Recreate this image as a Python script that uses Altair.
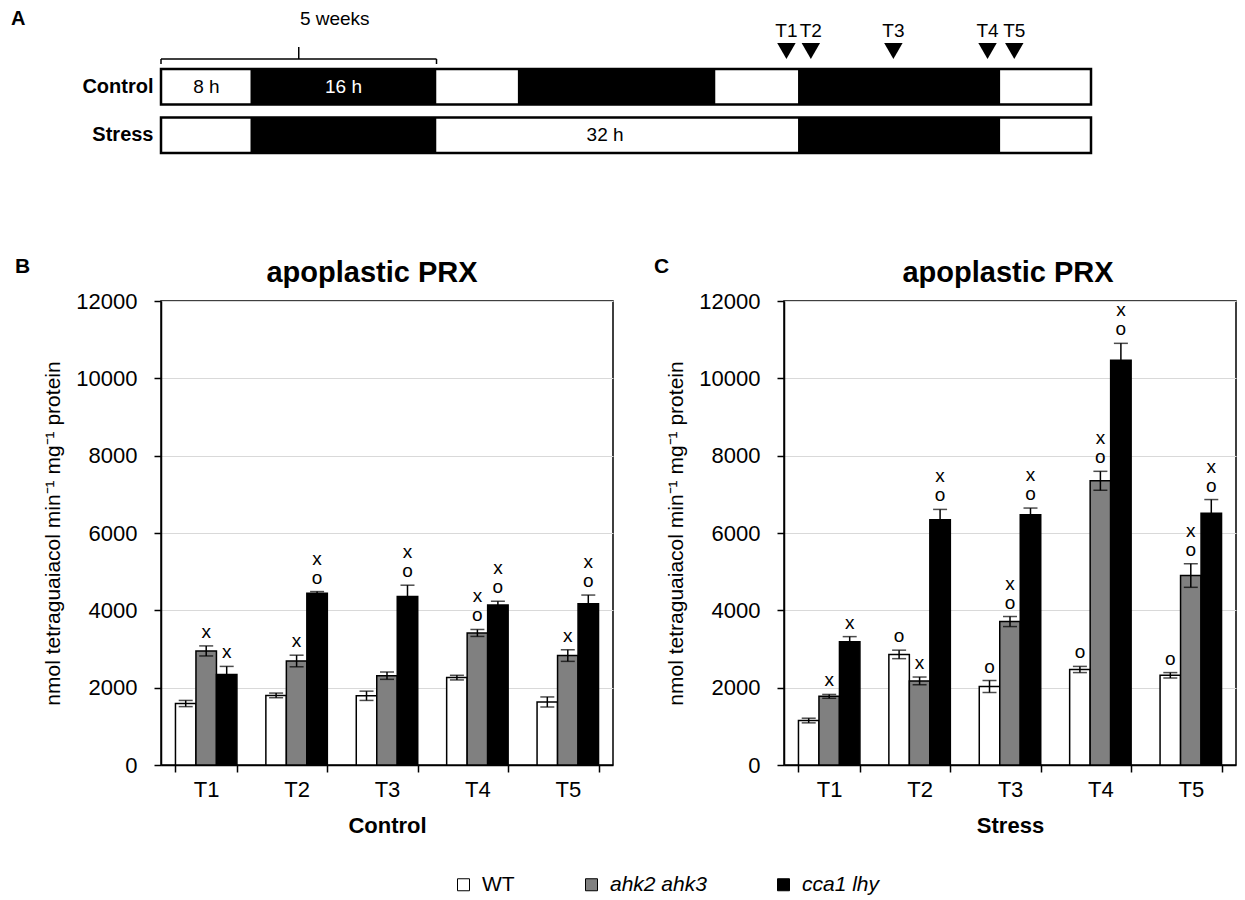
import altair as alt
import pandas as pd

FONT = "Liberation Sans"

# ---------------- Panel A: light/dark schedule (hours) ----------------
rows = ["Control", "Stress"]
ctrl_start = [0, 7.7, 23.7, 30.7, 47.7, 54.8, 72.2]
ctrl_end = [7.7, 23.7, 30.7, 47.7, 54.8, 72.2, 80]
ctrl_phase = ["light", "dark", "light", "dark", "light", "dark", "light"]
stress_start = [0, 7.7, 23.7, 54.8, 72.2]
stress_end = [7.7, 23.7, 54.8, 72.2, 80]
stress_phase = ["light", "dark", "light", "dark", "light"]
period_text = ["8 h", "16 h", "32 h"]
period_row = ["Control", "Control", "Stress"]
period_hour = [3.9, 15.7, 38.2]
period_phase = ["light", "dark", "light"]
timepoints = ["T1", "T2", "T3", "T4", "T5"]
timepoint_hour = [53.8, 55.9, 63.0, 71.1, 73.4]
bracket_start = [0]
bracket_end = [23.7]
bracket_text = ["5 weeks"]

# ---------------- Panels B / C: apoplastic PRX ----------------
genotypes = ["WT", "ahk2 ahk3", "cca1 lhy"]
ctrl_wt = [1590, 1800, 1790, 2260, 1630]
ctrl_ahk = [2950, 2690, 2310, 3415, 2830]
ctrl_cca = [2340, 4440, 4360, 4140, 4170]
ctrl_wt_err = [80, 60, 120, 60, 130]
ctrl_ahk_err = [130, 150, 95, 90, 150]
ctrl_cca_err = [210, 45, 290, 95, 225]
ctrl_wt_sig = ["", "", "", "", ""]
ctrl_ahk_sig = ["x", "x", "", "xo", "x"]
ctrl_cca_sig = ["x", "xo", "xo", "xo", "xo"]

stress_wt = [1150, 2860, 2030, 2470, 2320]
stress_ahk = [1775, 2175, 3710, 7350, 4900]
stress_cca = [3190, 6340, 6470, 10470, 6510]
stress_wt_err = [60, 110, 155, 80, 70]
stress_ahk_err = [50, 100, 130, 245, 305]
stress_cca_err = [130, 270, 175, 435, 355]
stress_wt_sig = ["", "o", "o", "o", "o"]
stress_ahk_sig = ["x", "x", "xo", "xo", "xo"]
stress_cca_sig = ["x", "xo", "xo", "xo", "xo"]

y_ticks = [0, 2000, 4000, 6000, 8000, 10000, 12000]
y_title = "nmol tetraguaiacol min\u207b\u00b9 mg\u207b\u00b9 protein"
panel_title = "apoplastic PRX"

# ================= Panel A =================
seg_df = pd.DataFrame({
    "row": ["Control"] * len(ctrl_start) + ["Stress"] * len(stress_start),
    "start": ctrl_start + stress_start,
    "end": ctrl_end + stress_end,
    "phase": ctrl_phase + stress_phase,
})
outline_df = pd.DataFrame({
    "row": rows,
    "start": [ctrl_start[0], stress_start[0]],
    "end": [ctrl_end[-1], stress_end[-1]],
})
period_df = pd.DataFrame({"text": period_text, "row": period_row,
                          "hour": period_hour, "phase": period_phase})
tp_df = pd.DataFrame({"tp": timepoints, "hour": timepoint_hour})
br_df = pd.DataFrame({"start": bracket_start, "end": bracket_end, "text": bracket_text})

xA = alt.Scale(domain=[0, 80])
yA_scale = alt.Scale(domain=rows, paddingInner=0.27, paddingOuter=0)
yA_axis = alt.Axis(title=None, ticks=False, domain=False, labelFontSize=20,
                   labelFontWeight="bold", labelColor="black", labelPadding=8)

segs = alt.Chart(seg_df).mark_bar().encode(
    x=alt.X("start:Q", scale=xA, axis=None),
    x2="end:Q",
    y=alt.Y("row:N", scale=yA_scale, axis=yA_axis),
    color=alt.Color("phase:N", scale=alt.Scale(domain=["light", "dark"], range=["white", "black"]), legend=None),
)
outline = alt.Chart(outline_df).mark_bar(fillOpacity=0, stroke="black", strokeWidth=2.5).encode(
    x=alt.X("start:Q", scale=xA, axis=None), x2="end:Q",
    y=alt.Y("row:N", scale=yA_scale, axis=yA_axis),
)
period_txt = alt.Chart(period_df).transform_calculate(
    tcolor="datum.phase == 'dark' ? 'white' : 'black'"
).mark_text(fontSize=19, baseline="middle").encode(
    x=alt.X("hour:Q", scale=xA, axis=None),
    y=alt.Y("row:N", scale=yA_scale, axis=yA_axis),
    text="text:N",
    fill=alt.Fill("tcolor:N", scale=None),
)
triangles = alt.Chart(tp_df).mark_point(shape="triangle-down", filled=True, color="black",
                                        size=340, opacity=1).encode(
    x=alt.X("hour:Q", scale=xA, axis=None), y=alt.value(-18))
tp_txt = alt.Chart(tp_df).mark_text(fontSize=19, baseline="middle").encode(
    x=alt.X("hour:Q", scale=xA, axis=None), y=alt.value(-38), text="tp:N")
br_h = alt.Chart(br_df).mark_rule(color="black", strokeWidth=1.5).encode(
    x=alt.X("start:Q", scale=xA, axis=None), x2="end:Q", y=alt.value(-10))
br_ends = alt.Chart(br_df).transform_fold(["start", "end"], as_=["side", "pos"]).mark_rule(
    color="black", strokeWidth=1.5).encode(
    x=alt.X("pos:Q", scale=xA, axis=None), y=alt.value(-10), y2=alt.value(-5))
br_mid = alt.Chart(br_df).transform_calculate(mid="(datum.start + datum.end) / 2").mark_rule(
    color="black", strokeWidth=1.5).encode(
    x=alt.X("mid:Q", scale=xA, axis=None), y=alt.value(-22), y2=alt.value(-10))
br_txt = alt.Chart(br_df).transform_calculate(mid="(datum.start + datum.end) / 2").mark_text(
    fontSize=19, baseline="middle", dx=36).encode(
    x=alt.X("mid:Q", scale=xA, axis=None), y=alt.value(-50), text="text:N")
letterA = alt.Chart(pd.DataFrame({"letter": ["A"]})).mark_text(
    fontSize=20, fontWeight="bold", align="left", baseline="middle").encode(
    x=alt.value(-150), y=alt.value(-50), text="letter:N")

panelA = alt.layer(segs, outline, period_txt, triangles, tp_txt, br_h, br_ends, br_mid,
                   br_txt, letterA).properties(
    width=930, height=84, view=alt.ViewBackground(stroke="transparent"))


# ================= Panels B / C =================
def make_df(vals, errs, sigs):
    recs = []
    for g, v_list, e_list, s_list in zip(genotypes, vals, errs, sigs):
        for t, v, e, s in zip(timepoints, v_list, e_list, s_list):
            recs.append({"time": t, "genotype": g, "value": v, "lo": v - e, "hi": v + e, "sig": s})
    return pd.DataFrame(recs)


dfB = make_df([ctrl_wt, ctrl_ahk, ctrl_cca], [ctrl_wt_err, ctrl_ahk_err, ctrl_cca_err],
              [ctrl_wt_sig, ctrl_ahk_sig, ctrl_cca_sig])
dfC = make_df([stress_wt, stress_ahk, stress_cca], [stress_wt_err, stress_ahk_err, stress_cca_err],
              [stress_wt_sig, stress_ahk_sig, stress_cca_sig])

W, H = 452, 464


def panel(df, xtitle, letter, letter_x, title_dx, legend):
    xaxis = alt.Axis(labelAngle=0, tickBand="extent", tickSize=7, tickColor="black", tickWidth=1.5,
                     domainColor="black", domainWidth=1.5, labelFontSize=22, labelColor="black",
                     labelPadding=7, titleFontSize=22, titleFontWeight="bold", titleColor="black",
                     titlePadding=15, grid=False)
    yaxis = alt.Axis(values=y_ticks, format="d", title=y_title, tickSize=7, tickColor="black",
                     tickWidth=1.5, domainColor="black", domainWidth=1.5, labelFontSize=22,
                     labelColor="black", labelPadding=17, titleFontSize=21, titleFontWeight="normal",
                     titleColor="black", titlePadding=12, grid=True, gridColor="#d9d9d9", gridWidth=1)
    xs = alt.Scale(domain=timepoints, paddingInner=0.32, paddingOuter=0.16)
    ys = alt.Scale(domain=[0, 12000], nice=False)
    xenc = alt.X("time:N", sort=timepoints, title=xtitle, scale=xs, axis=xaxis)
    xoff = alt.XOffset("genotype:N", sort=genotypes,
                       scale=alt.Scale(domain=genotypes, paddingInner=0, paddingOuter=0))
    base = alt.Chart(df)
    bars = base.mark_bar(stroke="black", strokeWidth=1.5).encode(
        x=xenc, xOffset=xoff,
        y=alt.Y("value:Q", scale=ys, axis=yaxis),
        fill=alt.Fill("genotype:N", sort=genotypes,
                      scale=alt.Scale(domain=genotypes, range=["white", "#808080", "black"]),
                      legend=legend),
    )
    err = base.mark_rule(color="black", strokeWidth=1.5).encode(
        x=xenc, xOffset=xoff, y=alt.Y("lo:Q", scale=ys), y2="hi:Q")
    cap_hi = base.mark_tick(color="black", thickness=1.5, size=14).encode(
        x=xenc, xOffset=xoff, y=alt.Y("hi:Q", scale=ys))
    cap_lo = base.mark_tick(color="black", thickness=1.5, size=14).encode(
        x=xenc, xOffset=xoff, y=alt.Y("lo:Q", scale=ys))
    sig_o = base.transform_filter("indexof(datum.sig, 'o') >= 0").mark_text(
        text="o", fontSize=19, baseline="bottom", dy=-4).encode(
        x=xenc, xOffset=xoff, y=alt.Y("hi:Q", scale=ys))
    sig_x_low = base.transform_filter(
        "indexof(datum.sig, 'x') >= 0 && indexof(datum.sig, 'o') < 0").mark_text(
        text="x", fontSize=19, baseline="bottom", dy=-4).encode(
        x=xenc, xOffset=xoff, y=alt.Y("hi:Q", scale=ys))
    sig_x_high = base.transform_filter(
        "indexof(datum.sig, 'x') >= 0 && indexof(datum.sig, 'o') >= 0").mark_text(
        text="x", fontSize=19, baseline="bottom", dy=-23).encode(
        x=xenc, xOffset=xoff, y=alt.Y("hi:Q", scale=ys))
    ttl = alt.Chart(pd.DataFrame({"t": [panel_title]})).mark_text(
        fontSize=29, fontWeight="bold", align="center", baseline="alphabetic", dx=title_dx).encode(
        x=alt.value(W / 2), y=alt.value(-19), text="t:N")
    let = alt.Chart(pd.DataFrame({"letter": [letter]})).mark_text(
        fontSize=21, fontWeight="bold", align="left", baseline="middle").encode(
        x=alt.value(letter_x), y=alt.value(-34), text="letter:N")
    return alt.layer(bars, err, cap_hi, cap_lo, sig_o, sig_x_low, sig_x_high, ttl, let).properties(
        width=W, height=H,
        view=alt.ViewBackground(stroke="black", strokeWidth=1.5),
    )


legend = alt.Legend(title=None, orient="none", legendX=292, legendY=573, direction="horizontal",
                    symbolType="square", symbolSize=144, symbolStrokeColor="black",
                    symbolStrokeWidth=1, labelFontSize=21, labelColor="black", labelOffset=8,
                    columnPadding=66,
                    labelFontStyle=alt.ExprRef("datum.label === 'WT' ? 'normal' : 'italic'"))

panelB = panel(dfB, "Control", "B", -146, -15, legend)
panelC = panel(dfC, "Stress", "C", -130, -2, None)

bc = alt.hconcat(panelB, panelC, spacing=171, bounds="flush").resolve_scale(
    fill="independent").resolve_legend(fill="independent")

chart = alt.vconcat(panelA, bc, spacing=100).properties(
    padding={"left": 10, "top": 8, "right": 5, "bottom": 5}
).configure(font=FONT)

chart.save("out.html", embed_options={"renderer": "svg", "actions": False})
